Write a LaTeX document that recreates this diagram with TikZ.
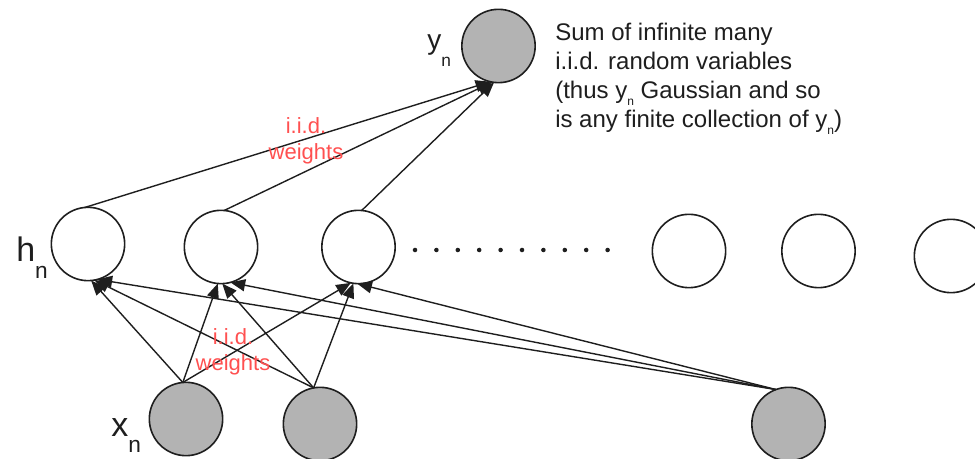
\documentclass[tikz,border=0pt]{standalone}
\usepackage{fontspec}
\setmainfont{Liberation Sans}
\usetikzlibrary{arrows.meta}
\definecolor{netgray}{RGB}{179,179,179}
\definecolor{netline}{RGB}{30,30,30}
\definecolor{weightred}{RGB}{255,80,80}
\newcommand{\lowsub}[3]{\raisebox{-#1}{\fontsize{#2}{#2}\selectfont #3}}
\tikzset{
    neuron/.style={
        circle,
        draw=netline,
        line width=1.2pt,
        minimum size=55pt,
        inner sep=0pt,
        outer sep=0pt
    },
    observed neuron/.style={
        neuron,
        fill=netgray
    },
    weight/.style={
        -{Triangle[length=11pt,width=9pt]},
        line width=1.05pt,
        draw=netline
    },
    weight label/.style={
        text=weightred,
        align=center,
        inner sep=0pt,
        font=\fontsize{16.5}{19.5}\selectfont
    },
    layer label/.style={
        anchor=base west,
        inner sep=0pt,
        text=netline,
        font=\fontsize{25.5}{25.5}\selectfont
    }
}

\begin{document}
\begin{tikzpicture}[x=0.75pt,y=-0.75pt]
    \useasboundingbox (0,0) rectangle (975,459);
    \clip (0,0) rectangle (975,459);
    % output unit
    \node [observed neuron] (y) at (498.5,46) {};
    % hidden layer
    \foreach \i/\px/\py in {1/88/244,2/221/247,3/358.5/247,4/689/251,5/818.5/251,6/951/256}
        \node [neuron] (h\i) at (\px,\py) {};
    % input layer
    \foreach \j/\px/\py in {1/186/419,2/320/424,3/788.5/424}
        \node [observed neuron] (x\j) at (\px,\py) {};
    % infinitely many hidden units
    \foreach \k in {0,...,9}
        \fill [netline] (415+21.4*\k,250) circle (1.7pt);
    % hidden -> output
    \foreach \i/\s/\a in {1/95/-103,2/85/-100,3/85/-97}
        \draw [weight] (h\i.\s) -- (y.\a);
    % input -> hidden
    \foreach \j/\s/\i/\a in {1/95/1/-85,2/100/1/-80,3/110/1/-75,
                             1/95/2/-95,2/100/2/-88,3/110/2/-75,
                             1/95/3/-102,2/100/3/-98,3/110/3/-92}
        \draw [weight] (x\j.\s) -- (h\i.\a);
    % labels
    \node [layer label, font=\fontsize{21}{21}\selectfont] (ylab) at (427,49.5) {y\lowsub{13pt}{13}{n}};
    \node [layer label] (hlab) at (16,262) {h\lowsub{12.5pt}{17}{n}};
    \node [layer label] (xlab) at (111,437) {x\lowsub{11.5pt}{17}{n}};
    \node [weight label] (wtop) at (306,141) {i.i.d.\\weights};
    \node [weight label] (wbot) at (233,352) {i.i.d.\\weights};
    \node [anchor=base west, align=left, inner sep=0pt, text=netline,
           font=\fontsize{18}{21.75}\selectfont] (note) at (555,128)
        {Sum of infinite many\\
         i.i.d. random variables\\
         (thus y\lowsub{5pt}{9}{n} Gaussian and so\\
         is any finite collection of y\lowsub{5pt}{9}{n})};
\end{tikzpicture}
\end{document}
